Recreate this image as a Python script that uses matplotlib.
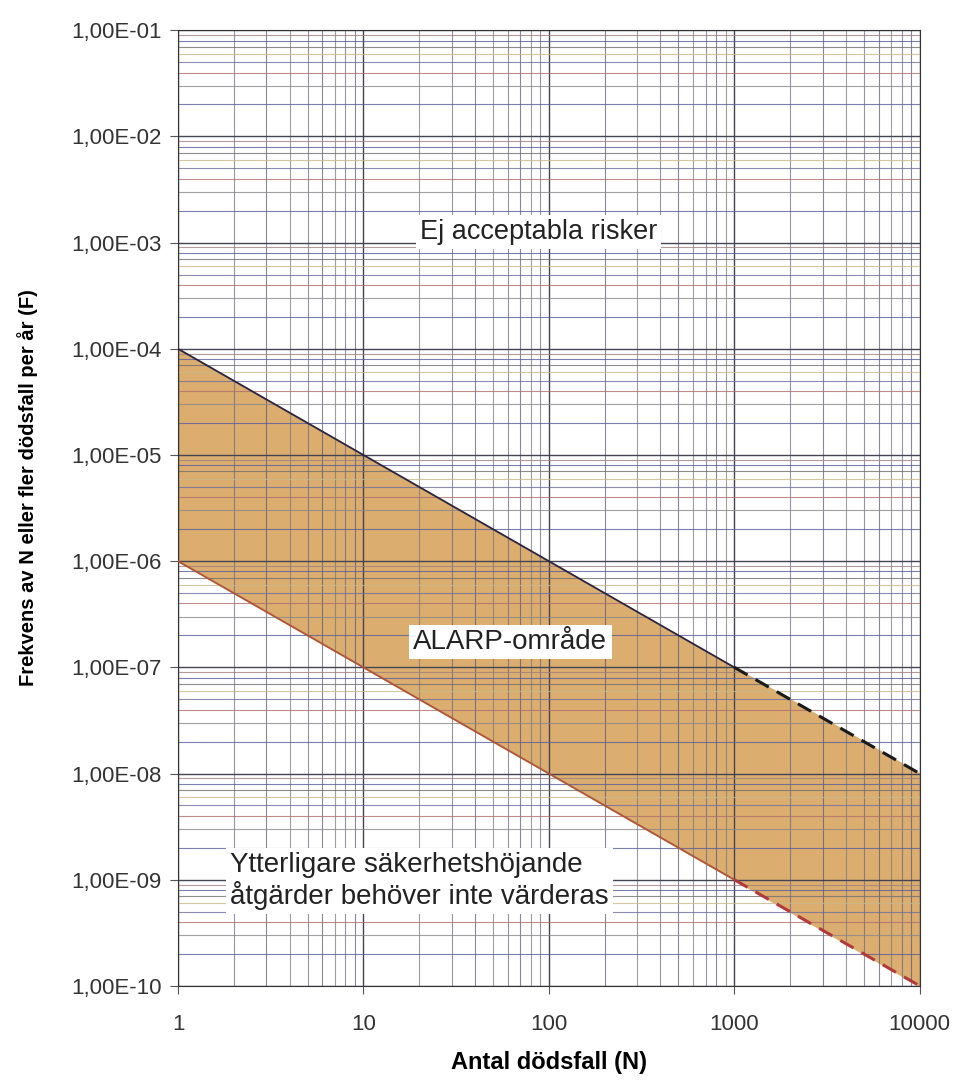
import numpy as np
import matplotlib.pyplot as plt
from matplotlib.ticker import FixedLocator, FuncFormatter, LogLocator

plt.rcParams['font.family'] = ['Liberation Sans', 'DejaVu Sans']

# FN-kurvor (kriterier)
n_solid = [1, 1000]
n_dash = [1000, 10000]
upper_solid = [1e-4, 1e-7]
upper_dash = [1e-7, 1e-8]
lower_solid = [1e-6, 1e-9]
lower_dash = [1e-9, 1e-10]
n_band = [1, 1000, 10000]
upper_band = [1e-4, 1e-7, 1e-8]
lower_band = [1e-6, 1e-9, 1e-10]

x_ticks = [1, 10, 100, 1000, 10000]
y_ticks = [1e-10, 1e-9, 1e-8, 1e-7, 1e-6, 1e-5, 1e-4, 1e-3, 1e-2, 1e-1]

fig = plt.figure(figsize=(9.57, 10.81), dpi=100)
ax = fig.add_axes([0.186, 0.088, 0.775, 0.884])
ax.set_xscale('log')
ax.set_yscale('log')
ax.set_xlim(1, 10000)
ax.set_ylim(1e-10, 1e-1)

ax.fill_between(n_band, lower_band, upper_band, color='#dbad6f', zorder=1)
ax.plot(n_solid, upper_solid, color='#2b2540', lw=1.3, zorder=3)
ax.plot(n_dash, upper_dash, color='#1a1a1a', lw=2.2, ls=(0, (5, 3)), zorder=3)
ax.plot(n_solid, lower_solid, color='#b0553a', lw=1.3, zorder=3)
ax.plot(n_dash, lower_dash, color='#b23a3a', lw=2.2, ls=(0, (5, 3)), zorder=3)

ax.xaxis.set_major_locator(FixedLocator(x_ticks))
ax.yaxis.set_major_locator(FixedLocator(y_ticks))
ax.xaxis.set_minor_locator(LogLocator(base=10, subs=np.arange(2, 10)))
ax.yaxis.set_minor_locator(LogLocator(base=10, subs=np.arange(2, 10), numticks=20))
ax.xaxis.set_major_formatter(FuncFormatter(lambda v, p: '%d' % round(v)))
ax.yaxis.set_major_formatter(FuncFormatter(lambda v, p: ('%.2E' % v).replace('.', ',')))
ax.xaxis.set_minor_formatter(FuncFormatter(lambda v, p: ''))
ax.yaxis.set_minor_formatter(FuncFormatter(lambda v, p: ''))

ax.grid(True, which='major', color='#444455', lw=1.0)
ax.grid(True, which='minor', color='#6a6a8a', lw=0.8)
gcols = ['#5a5f9a', '#8a8a8a', '#b07070', '#6f6f9f', '#c9b98a', '#707070', '#5a5f9a', '#a08080']
for i, t in enumerate(ax.yaxis.get_minor_ticks()):
    t.gridline.set_color(gcols[i % len(gcols)])
    t.gridline.set_alpha(0.8)
for i, t in enumerate(ax.xaxis.get_minor_ticks()):
    t.gridline.set_color(['#555577', '#777777', '#666688'][i % 3])
    t.gridline.set_alpha(0.7)

ax.tick_params(which='minor', length=0)
ax.tick_params(which='major', length=6, color='#555555', labelsize=16, labelcolor='#333333')
ax.tick_params(axis='x', pad=14)
ax.tick_params(axis='y', pad=6)
for s in ax.spines.values():
    s.set_color('#333333')

ax.set_xlabel('Antal dödsfall (N)', fontsize=17, fontweight='bold', labelpad=12)
ax.set_ylabel('Frekvens av N eller fler dödsfall per år (F)', fontsize=14.5, fontweight='bold')
ax.yaxis.set_label_coords(-0.189, 0.521)

box = dict(facecolor='white', edgecolor='none', pad=3)
ax.text(88, 1.25e-3, 'Ej acceptabla risker', fontsize=19.5, color='#222222',
        ha='center', va='center', bbox=box, zorder=5)
ax.text(62, 1.73e-7, 'ALARP-område', fontsize=20, color='#222222',
        ha='center', va='center', bbox=box, zorder=5)
ax.text(1.91, 9.7e-10, 'Ytterligare säkerhetshöjande\nåtgärder behöver inte värderas', fontsize=20,
        color='#222222', ha='left', va='center', linespacing=1.1, bbox=box, zorder=5)

fig.savefig('out.png', dpi=100)
